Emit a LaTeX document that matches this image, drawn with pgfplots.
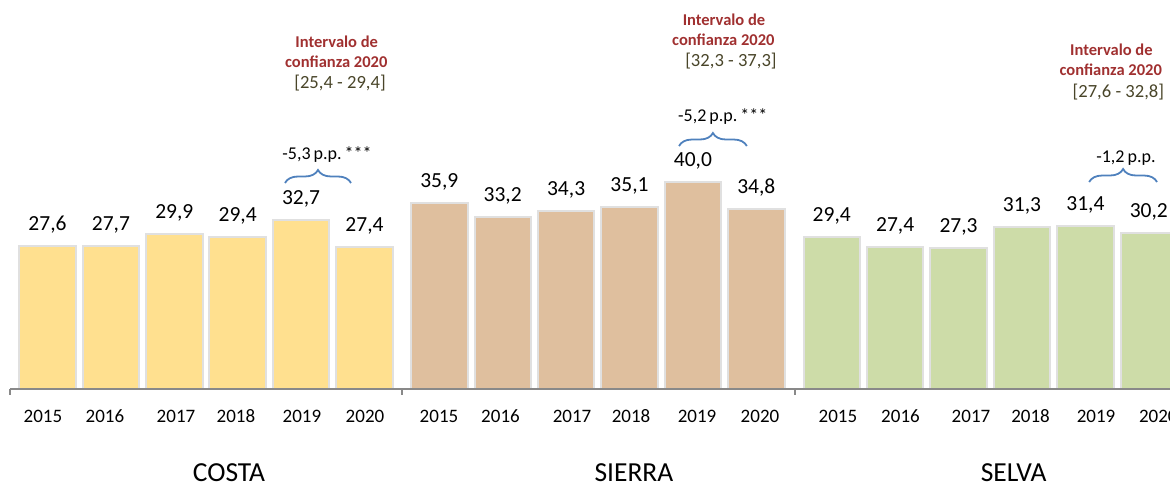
\documentclass[border=0pt]{standalone}
\usepackage{fontspec}
\setmainfont{Carlito}
\usepackage{pgfplots}
\pgfplotsset{compat=1.18}
\usetikzlibrary{decorations.pathreplacing}

\definecolor{costa}{RGB}{255,224,143}
\definecolor{sierra}{RGB}{223,191,158}
\definecolor{selva}{RGB}{205,220,168}
\definecolor{baredge}{RGB}{224,224,224}
\definecolor{axisgray}{RGB}{137,137,137}
\definecolor{icred}{RGB}{160,48,48}
\definecolor{icolive}{RGB}{73,69,41}
\definecolor{braceblue}{RGB}{79,129,189}

\newcommand{\fsYear}{\fontsize{9.5}{11}\selectfont}
\newcommand{\fsVal}{\fontsize{10.75}{12}\selectfont}
\newcommand{\fsGroup}{\fontsize{13.75}{15}\selectfont}
\newcommand{\fsIc}{\fontsize{8.25}{9}\selectfont\bfseries}
\newcommand{\fsRange}{\fontsize{9.3}{10}\selectfont}
\newcommand{\fsPp}{\fontsize{9}{10}\selectfont}

\begin{document}
\begin{tikzpicture}
\begin{axis}[
  scale only axis,
  width=580pt, height=194.5pt,
  xmin=-0.591, xmax=17.705,
  ymin=0, ymax=75.1,
  axis x line*=bottom, axis y line=none,
  x axis line style={draw=axisgray, line width=1pt},
  axis on top,
  clip=false,
  ytick=\empty,
  xtick={-0.071,0.907,2.027,2.973,4.014,5.008,
         6.175,7.145,8.273,9.204,10.245,11.238,
         12.468,13.454,14.566,15.505,16.538,17.52},
  xticklabels={2015,2016,2017,2018,2019,2020,
               2015,2016,2017,2018,2019,2020,
               2015,2016,2017,2018,2019,2020},
  major tick length=0pt,
  xticklabel style={font=\fsYear, text=black, anchor=base, yshift=-16.9pt},
  nodes near coords,
  nodes near coords style={font=\fsVal, text=black, anchor=south, yshift=2.5pt},
  every axis plot/.append style={ybar, bar width=0.89, bar shift=0pt,
                                 draw=baredge, line width=1pt},
  /pgf/number format/.cd, fixed, fixed zerofill, precision=1, use comma,
  assume math mode=true,
]
% COSTA
\addplot[fill=costa] coordinates {
  (0,27.6) (1,27.7) (2,29.9) (3,29.4) (4,32.7) (5,27.4)};
% SIERRA
\addplot[fill=sierra] coordinates {
  (6.18,35.9) (7.18,33.2) (8.18,34.3) (9.18,35.1) (10.18,40.0) (11.18,34.8)};
% SELVA
\addplot[fill=selva] coordinates {
  (12.37,29.4) (13.37,27.4) (14.37,27.3) (15.37,31.3) (16.37,31.4) (17.37,30.2)};

% group separator ticks
\draw[axisgray, line width=1pt] (axis cs:-0.591,0) -- ([yshift=-3pt]axis cs:-0.591,0);
\draw[axisgray, line width=1pt] (axis cs:5.591,0) -- ([yshift=-3pt]axis cs:5.591,0);
\draw[axisgray, line width=1pt] (axis cs:11.79,0) -- ([yshift=-3pt]axis cs:11.79,0);

% group names
\node[font=\fsGroup, inner sep=0pt] at (axis cs:2.863,-16.2) {COSTA};
\node[font=\fsGroup, inner sep=0pt] at (axis cs:9.25,-16.2) {SIERRA};
\node[font=\fsGroup, inner sep=0pt] at (axis cs:15.24,-16.2) {SELVA};

% confidence intervals
\node[font=\fsIc, text=icred] at (axis cs:4.562,67.08) {Intervalo de};
\node[font=\fsIc, text=icred] at (axis cs:4.555,63.22) {confianza 2020};
\node[font=\fsRange, text=icolive] at (axis cs:4.614,58.98) {[25,4 - 29,4]};

\node[font=\fsIc, text=icred] at (axis cs:10.67,71.24) {Intervalo de};
\node[font=\fsIc, text=icred] at (axis cs:10.66,67.47) {confianza 2020};
\node[font=\fsRange, text=icolive] at (axis cs:10.78,63.22) {[32,3 - 37,3]};

\node[font=\fsIc, text=icred] at (axis cs:16.78,65.54) {Intervalo de};
\node[font=\fsIc, text=icred] at (axis cs:16.77,61.68) {confianza 2020};
\node[font=\fsRange, text=icolive] at (axis cs:16.89,57.24) {[27,6 - 32,8]};

% changes 2019-2020
\node[font=\fsPp] at (axis cs:4.409,45.17) {-5,3\,p.p.\,***};
\draw[braceblue, line width=0.9pt, decorate, decoration={brace, amplitude=6.5pt}]
  (axis cs:3.746,39.77) -- (axis cs:4.787,39.77);
\node[font=\fsPp] at (axis cs:10.65,52.51) {-5,2\,p.p.\,***};
\draw[braceblue, line width=0.9pt, decorate, decoration={brace, amplitude=6.5pt}]
  (axis cs:9.961,46.91) -- (axis cs:11.03,46.91);
\node[font=\fsPp] at (axis cs:17.01,44.59) {-1,2\,p.p.};
\draw[braceblue, line width=0.9pt, decorate, decoration={brace, amplitude=6.5pt}]
  (axis cs:16.43,39.96) -- (axis cs:17.50,39.96);

\coordinate (bbll) at (axis cs:-0.749,-19.11);
\coordinate (bbur) at (axis cs:17.705,75.1);
\end{axis}
\pgfresetboundingbox
\useasboundingbox (bbll) rectangle (bbur);
\end{tikzpicture}
\end{document}
